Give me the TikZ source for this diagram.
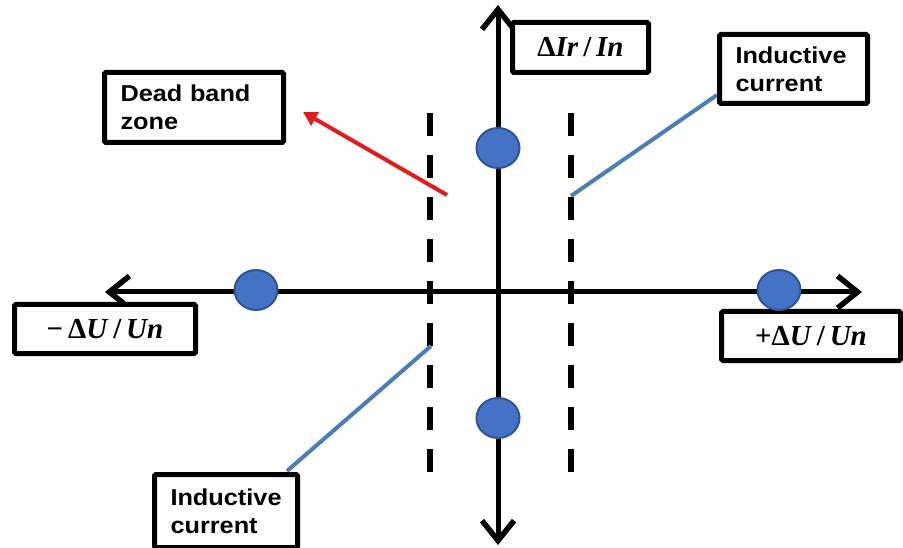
\documentclass[tikz,border=0pt]{standalone}
\usepackage{fontspec}
\setmainfont{Liberation Sans}
\newfontfamily\boxfont[FakeStretch=1.1]{Liberation Sans}
\newfontfamily\qtyfont{Liberation Serif}
\usetikzlibrary{arrows.meta,shapes.geometric}
\definecolor{linkblue}{HTML}{4A7EBB}
\definecolor{dotfill}{HTML}{4472C4}
\definecolor{dotedge}{HTML}{2F5597}
\definecolor{arrowred}{HTML}{E31B1B}
\newcommand\qlabel[1]{{\qtyfont\bfseries #1}}
\tikzset{
  labelbox/.style={draw=black, line width=5pt, fill=white, rounded corners=1.5pt,
    anchor=north west, inner ysep=0pt},
  textbox/.style={labelbox, font=\boxfont\bfseries\fontsize{23}{28}\selectfont,
    align=left, inner xsep=16pt},
  qtybox/.style={labelbox, font=\fontsize{29}{32}\selectfont, inner xsep=0pt},
  axisline/.style={line width=5pt, line cap=round,
    {Straight Barb[length=20pt,width=32pt,line width=5.5pt]}-{Straight Barb[length=20pt,width=32pt,line width=5.5pt]}},
  deadline/.style={line width=5.5pt, dash pattern=on 23pt off 19pt},
  linkline/.style={line width=4pt, linkblue},
  pointer/.style={line width=4pt, arrowred, -{Triangle[length=14pt,width=15pt]}},
  dot/.style={ellipse, fill=dotfill, draw=dotedge, line width=2pt,
    minimum width=43pt, minimum height=40pt, inner sep=0pt}
}
\begin{document}
\begin{tikzpicture}[x=1pt, y=-1pt]
  \useasboundingbox (0,0) rectangle (903,548);

  % axes
  \coordinate (ytop) at (498,5);
  \coordinate (ybot) at (498,545);
  \coordinate (xleft) at (105,292);
  \coordinate (xright) at (862,292);
  \draw[axisline] (ybot) -- (ytop);
  \draw[axisline] (xleft) -- (xright);

  % dead band limits
  \coordinate (dlt) at (430,113);
  \coordinate (dlb) at (430,473);
  \coordinate (drt) at (571,113);
  \coordinate (drb) at (571,473);
  \draw[deadline] (dlt) -- (dlb);
  \draw[deadline] (drt) -- (drb);

  % characteristic branches and pointer
  \coordinate (ubreak) at (571,196);
  \coordinate (uend) at (717,95);
  \coordinate (lbreak) at (431,346);
  \coordinate (lend) at (287,471);
  \draw[linkline] (ubreak) -- (uend);
  \draw[linkline] (lbreak) -- (lend);
  \coordinate (rs) at (447,195);
  \coordinate (rt) at (303,112);
  \draw[pointer] (rs) -- (rt);

  % labels
  \node[textbox, text width=147pt, minimum height=70pt, inner xsep=16pt]
    (dead) at (102,70) {Dead band\\zone};
  \node[textbox, text width=116pt, minimum height=69pt]
    (indtop) at (717,32) {Inductive\\current};
  \node[textbox, text width=111pt, minimum height=73pt]
    (indbot) at (152,472) {Inductive\\current};
  \node[qtybox, minimum width=136pt, minimum height=50pt]
    (ylab) at (510,20) {\qlabel{Δ\textit{Ir}\,/\,\textit{In}}};
  \node[qtybox, minimum width=181pt, minimum height=49pt]
    (xneg) at (12,302) {\qlabel{−\,Δ\textit{U}\,/\,\textit{Un}}};
  \node[qtybox, minimum width=179pt, minimum height=49pt]
    (xpos) at (719,309) {\qlabel{+Δ\textit{U}\,/\,\textit{Un}}};

  % operating points
  \node[dot] (ptop) at (498,148) {};
  \node[dot] (pbot) at (498,418) {};
  \node[dot] (pleft) at (256,290) {};
  \node[dot] (pright) at (779,290) {};
\end{tikzpicture}
\end{document}
